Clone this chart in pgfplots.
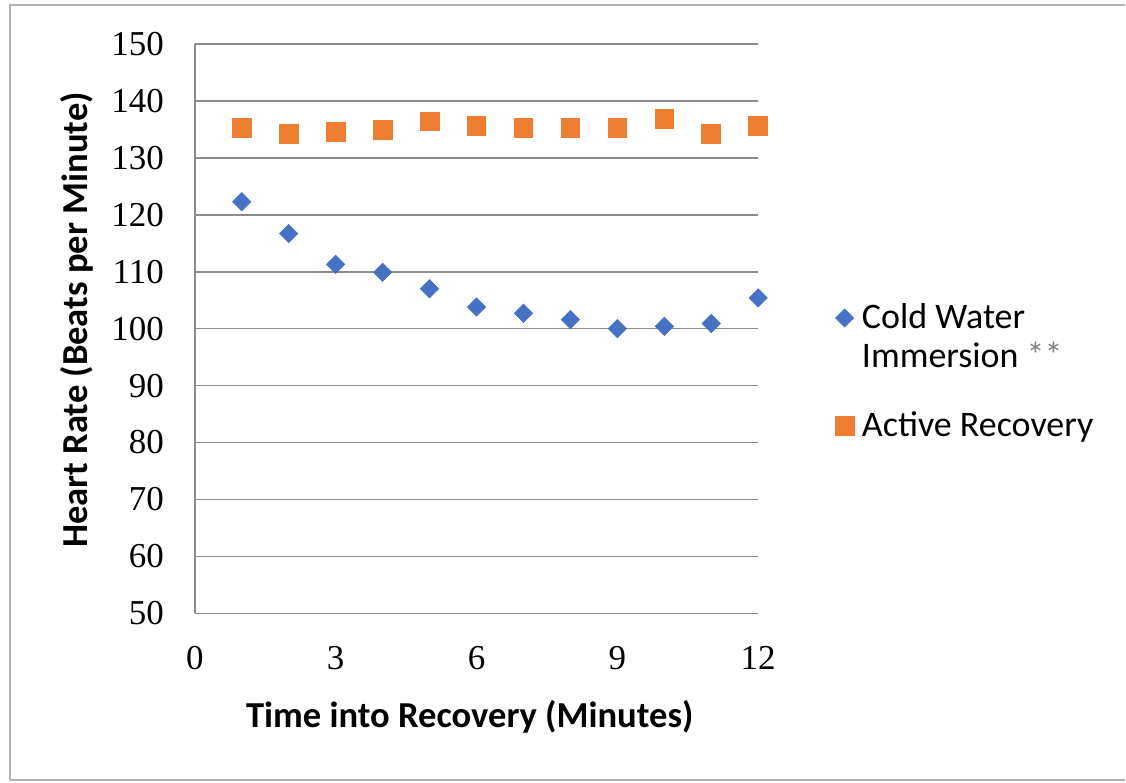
\documentclass[border=0pt]{standalone}
\usepackage{pgfplots}
\pgfplotsset{compat=1.18}
\usepackage{fontspec}
\setmainfont{Carlito}
\newfontfamily\numfont{Liberation Serif}
\definecolor{cwblue}{HTML}{4572C4}
\definecolor{arorange}{HTML}{ED7D31}
\definecolor{gridgray}{HTML}{8C8C8C}

\begin{document}
\begin{tikzpicture}
% page: 1126 x 783 px of the reference, 1 px = 0.5 pt
\path (0pt,0pt) rectangle (563pt,391.5pt);
\draw[gray!60, line width=1.2pt] (5pt,1pt) -- (5pt,389pt) -- (563pt,389pt);
\draw[gray!60, line width=1.2pt] (5pt,1pt) -- (563pt,1pt);
\begin{axis}[
  at={(97.5pt,84.5pt)}, anchor=south west,
  scale only axis, width=282pt, height=285pt,
  xmin=0, xmax=12, ymin=50, ymax=150,
  xtick={0,3,6,9,12}, ytick={50,60,...,150},
  axis x line*=bottom, axis y line*=left,
  axis line style={gridgray, line width=0.8pt},
  ymajorgrids, grid style={gridgray, line width=0.8pt},
  major tick length=0pt,
  /pgf/number format/assume math mode=true,
  ticklabel style={font=\numfont\fontsize{17.5}{20}\selectfont},
  xticklabel style={yshift=-13pt},
  yticklabel style={xshift=-12pt},
  xlabel={\bfseries Time into Recovery (Minutes)},
  ylabel={\bfseries Heart Rate (Beats per Minute)},
  label style={font=\fontsize{18.3}{20}\selectfont},
  xlabel style={at={(axis description cs:0.488,-0.182)}, anchor=center},
  ylabel style={at={(axis description cs:-0.21,0.515)}, anchor=center},
  legend style={at={(axis description cs:1.136,0.551)}, anchor=north west,
    draw=none, fill=none, font=\fontsize{18}{19.5}\selectfont,
    row sep=36pt, inner sep=0pt,
    nodes={inner xsep=4pt}},
  legend cell align=left,
  clip=false,
]
\addplot[only marks, mark=square*, mark size=3.2pt,
  mark options={rotate=45}, color=cwblue] coordinates {
  (1,122.3) (2,116.7) (3,111.3) (4,109.9) (5,107.0) (6,103.8)
  (7,102.7) (8,101.6) (9,100.0) (10,100.4) (11,100.9) (12,105.4)};
\addlegendentry{\rlap{\smash{\raisebox{-19.5pt}{Immersion \textcolor{gray}{**}}}}Cold Water}
\addplot[only marks, mark=square*, mark size=4.7pt, color=arorange] coordinates {
  (1,135.2) (2,134.2) (3,134.5) (4,134.9) (5,136.4) (6,135.6)
  (7,135.2) (8,135.2) (9,135.2) (10,136.8) (11,134.2) (12,135.6)};
\addlegendentry{Active Recovery}
\end{axis}
\end{tikzpicture}
\end{document}
